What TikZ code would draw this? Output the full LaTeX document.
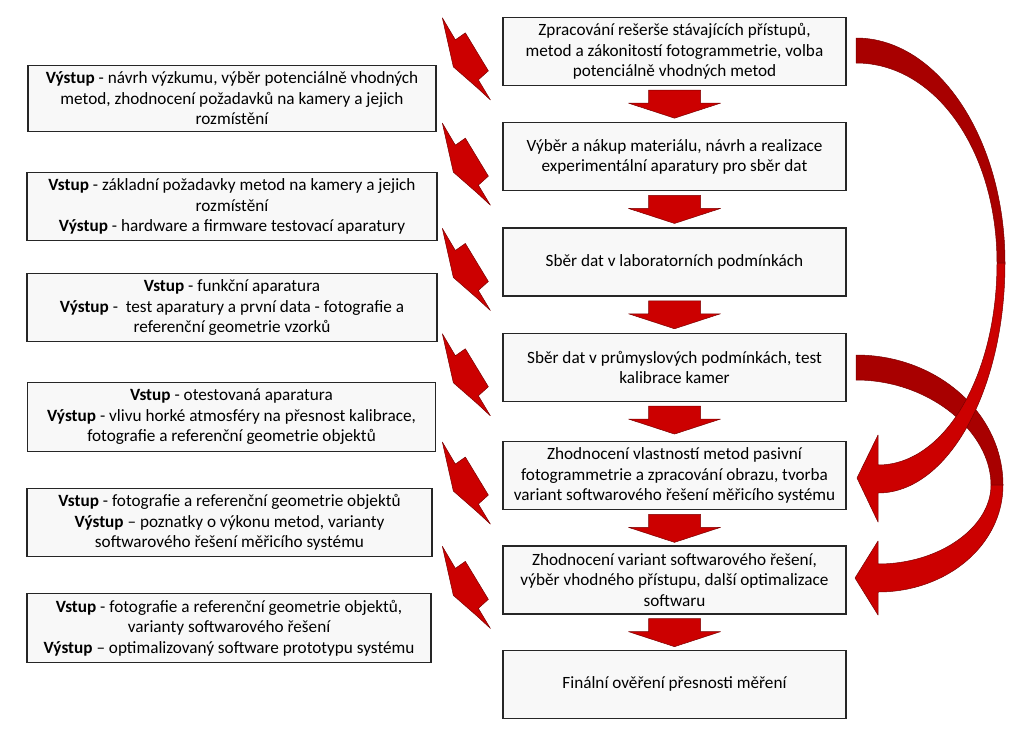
\documentclass[tikz,border=0pt]{standalone}
\usepackage{fontspec}
\setmainfont{Carlito}
\usetikzlibrary{calc, positioning}
\definecolor{boltred}{HTML}{CC0000}
\definecolor{ribbondark}{HTML}{A80000}
\definecolor{rimred}{HTML}{7A0000}
\definecolor{boxfill}{HTML}{F8F8F8}

\begin{document}
\begin{tikzpicture}[x=1pt, y=1pt,
  box/.style={draw=black!85, line width=1.3pt, fill=boxfill, align=center, inner sep=2pt,
    font=\fontsize{17.2}{20.5}\selectfont},
  rbox/.style={box, minimum width=343pt, minimum height=68pt},
  lbox/.style={box, minimum width=408pt, minimum height=68pt},
  redshape/.style={fill=boltred, draw=rimred, line width=0.5pt, line join=round},
  darkshape/.style={fill=ribbondark, draw=rimred, line width=0.5pt, line join=round}]
\useasboundingbox (0,0) rectangle (1023,-737);

\node[rbox] (r1) at (674.5,-51.5) {Zpracování rešerše stávajících přístupů,\\ metod a zákonitostí fotogrammetrie, volba\\ potenciálně vhodných metod};
\node[rbox, below=36pt of r1] (r2) {Výběr a nákup materiálu, návrh a realizace\\ experimentální aparatury pro sběr dat};
\node[rbox, below=36pt of r2] (r3) {Sběr dat v laboratorních podmínkách};
\node[rbox, below=36pt of r3] (r4) {Sběr dat v průmyslových podmínkách, test\\ kalibrace kamer};
\node[rbox, below=39pt of r4] (r5) {Zhodnocení vlastností metod pasivní\\ fotogrammetrie a zpracování obrazu, tvorba\\ variant softwarového řešení měřicího systému};
\node[rbox, below=35pt of r5] (r6) {Zhodnocení variant softwarového řešení,\\ výběr vhodného přístupu, další optimalizace\\ softwaru};
\node[rbox, below=35pt of r6] (r7) {Finální ověření přesnosti měření};

\node[lbox, minimum height=66pt] (l1) at (232,-98.5) {\textbf{Výstup} - návrh výzkumu, výběr potenciálně vhodných\\ metod, zhodnocení požadavků na kamery a jejich\\ rozmístění};
\node[lbox, minimum width=410pt] (l2) at (232,-206.5) {\textbf{Vstup} - základní požadavky metod na kamery a jejich\\ rozmístění\\ \textbf{Výstup} - hardware a firmware testovací aparatury};
\node[lbox, minimum width=410pt] (l3) at (232,-307.5) {\textbf{Vstup} - funkční aparatura\\ \textbf{Výstup} -\ \ test aparatury a první data - fotografie a\\ referenční geometrie vzorků};
\node[lbox, minimum height=69pt] (l4) at (231.5,-417) {\textbf{Vstup} - otestovaná aparatura\\ \textbf{Výstup} - vlivu horké atmosféry na přesnost kalibrace,\\ fotografie a referenční geometrie objektů};
\node[lbox, minimum width=405pt] (l5) at (229.5,-522.5) {\textbf{Vstup} - fotografie a referenční geometrie objektů\\ \textbf{Výstup} – poznatky o výkonu metod, varianty\\ softwarového řešení měřicího systému};
\node[lbox, minimum width=404pt, minimum height=69pt] (l6) at (229,-628) {\textbf{Vstup} - fotografie a referenční geometrie objektů,\\ varianty softwarového řešení\\ \textbf{Výstup} – optimalizovaný software prototypu systému};

\foreach \a/\b in {r1/r2, r2/r3, r3/r4, r4/r5, r5/r6, r6/r7}
  \draw[redshape] ($(\a.south)+(-26,-4)$) -- ++(52,0) -- ++(0,-13) -- ++(20,0)
    -- ($(\a.south)+(0,-32)$) -- ($(\a.south)+(-46,-17)$) -- ++(20,0) -- cycle;

\foreach \r in {r1, r2, r3, r4, r5, r6}
  \draw[redshape] ($(\r.north west)+(-60,-1)$) coordinate (tip) -- ($(tip)+(13,-22)$)
    -- ($(tip)+(23,-15)$) -- ($(tip)+(46,-53)$) -- ($(tip)+(36,-62)$)
    -- ($(tip)+(48,-82)$) -- ($(tip)+(35,-70)$) -- ($(tip)+(11,-49)$) -- cycle;

\draw[darkshape] (856,-355) .. controls (938,-355) and (1003,-414) .. (1003,-485)
  -- (991,-485) .. controls (991,-432) and (930,-380) .. (856,-380) -- cycle;
\draw[redshape] (1003,-485) .. controls (1003,-545) and (947,-592) .. (878,-592)
  -- (878,-615) -- (855,-578) -- (878,-541) -- (878,-564)
  .. controls (940,-564) and (991,-527) .. (991,-485) -- cycle;

\draw[darkshape] (856,-38) .. controls (938,-38) and (1005,-139) .. (1005,-263)
  -- (997,-263) .. controls (997,-150) and (935,-63) .. (856,-63) -- cycle;
\draw[redshape] (1005,-263) .. controls (1005,-390) and (948,-493) .. (878,-493)
  -- (878,-522) -- (857,-478) -- (878,-435) -- (878,-465)
  .. controls (945,-465) and (997,-375) .. (997,-263) -- cycle;
\end{tikzpicture}
\end{document}
